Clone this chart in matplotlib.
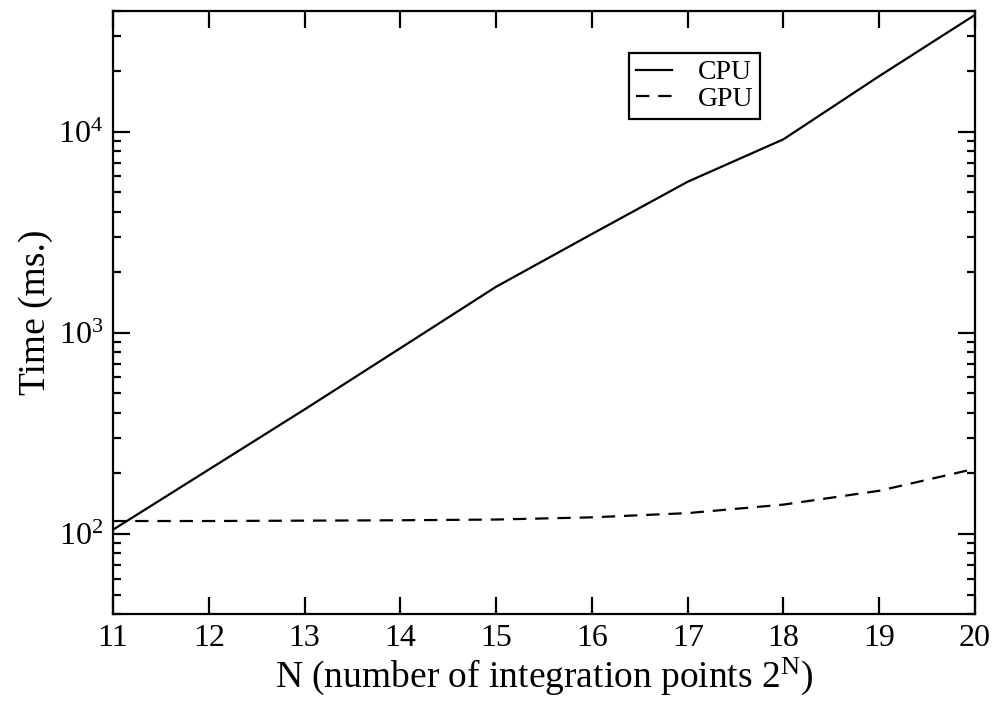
import matplotlib
matplotlib.use("Agg")
import matplotlib.pyplot as plt
from matplotlib.ticker import LogLocator, NullLocator, LogFormatterMathtext

plt.rcParams['font.family'] = ['Liberation Serif', 'DejaVu Serif']
plt.rcParams['mathtext.fontset'] = 'custom'
plt.rcParams['mathtext.rm'] = 'Liberation Serif'
plt.rcParams['mathtext.it'] = 'Liberation Serif:italic'

N = [11, 12, 13, 14, 15, 16, 17, 18, 19, 20]
cpu_ms = [105, 209, 416, 839, 1695, 3100, 5640, 9170, 18900, 38100]
gpu_ms = [116, 116, 116.5, 117, 118, 121, 127, 140, 164, 211]

fig = plt.figure(figsize=(9.98, 7.07), dpi=100)
ax = fig.add_axes([0.1132, 0.1315, 0.8638, 0.8535])

ax.plot(N, cpu_ms, color='black', lw=1.6, label='CPU')
ax.plot(N, gpu_ms, color='black', lw=1.6, dashes=(6, 4), label='GPU')

ax.set_yscale('log')
ax.set_xlim(11, 20)
ax.set_ylim(40, 40000)
ax.set_xticks(N)
ax.xaxis.set_minor_locator(NullLocator())
ax.yaxis.set_major_locator(LogLocator(base=10, numticks=10))
ax.yaxis.set_minor_locator(LogLocator(base=10, subs=range(2, 10), numticks=20))
ax.yaxis.set_major_formatter(LogFormatterMathtext())

for s in ax.spines.values():
    s.set_linewidth(1.6)
ax.tick_params(which='both', direction='in', top=True, right=True, width=1.6)
ax.tick_params(which='major', length=12, labelsize=23, pad=7)
ax.tick_params(which='minor', length=6)

ax.set_xlabel(r'N (number of integration points 2$^{\mathrm{N}}$)', fontsize=27, labelpad=2)
ax.set_ylabel('Time (ms.)', fontsize=27, labelpad=4)

leg = ax.legend(loc='upper left', bbox_to_anchor=(0.599, 0.93), fontsize=20,
                frameon=True, fancybox=False, edgecolor='black', framealpha=1,
                handlelength=1.3, handletextpad=0.9, borderpad=0.25, labelspacing=0.05,
                borderaxespad=0)
leg.get_frame().set_linewidth(1.6)

fig.savefig('out.png', dpi=100)
